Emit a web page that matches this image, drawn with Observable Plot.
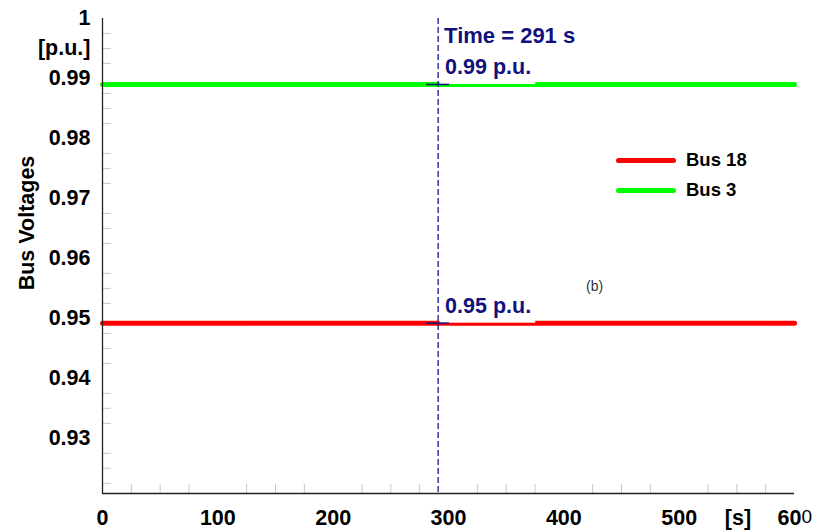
<!DOCTYPE html>
<html><head><meta charset="utf-8">
<script src="https://cdn.jsdelivr.net/npm/d3@7"></script>
<script src="https://cdn.jsdelivr.net/npm/@observablehq/plot@0.6"></script>
<style>
body{margin:0;background:#fff;font-family:"Liberation Sans",Arial,sans-serif;}
#wrap{position:relative;width:817px;height:531px;}
#wrap svg{font-family:"Liberation Sans",Arial,sans-serif;}
.legend{position:absolute;left:616px;top:145px;}
.row{display:flex;align-items:center;height:30px;}
.sw{width:60px;height:5px;border-radius:3px;margin-right:10px;}
.lab{font-weight:bold;font-size:18.5px;color:#000;}
.note{position:absolute;left:586px;top:278px;font-size:14px;color:#333;}
</style></head><body><div id="wrap"></div>
<script>
// ---- data ----
const times = [0, 600];
const bus18 = [0.9492, 0.9492];
const bus3 = [0.989, 0.989];
const seriesNames = ["Bus 18", "Bus 3"];
const seriesColors = ["#ff0000", "#00ff00"];

const cursorTime = 291;
const timeLabel = "Time = 291 s";
const readoutLabels = ["0.99 p.u.", "0.95 p.u."];
const readoutValues = [0.989, 0.9492];

const yTickValues = [1, 0.995, 0.99, 0.98, 0.97, 0.96, 0.95, 0.94, 0.93];
const yTickLabels = ["1", "[p.u.]", "0.99", "0.98", "0.97", "0.96", "0.95", "0.94", "0.93"];
const xTickValues = [0, 100, 200, 300, 400, 500, 551];
const xTickLabels = ["0", "100", "200", "300", "400", "500", "[s]"];
const xEndValue = 600;
const xEndLabels = ["60", "0"];
const yTitle = "Bus Voltages";
const noteText = "(b)";

const xDomain = [0, 600];
const yDomain = [0.9208, 1.0];
const minorX = d3.range(25, 600, 25).filter(v => v % 100 !== 0);
const minorY = d3.range(9225, 10000, 25).filter(v => v % 100 !== 0).map(v => v / 10000);

// ---- build ----
const lines = [];
times.forEach((t, i) => {
  lines.push({series: seriesNames[0], t, v: bus18[i]});
  lines.push({series: seriesNames[1], t, v: bus3[i]});
});
const readouts = readoutLabels.map((label, i) => ({time: cursorTime, value: readoutValues[i], label}));

const navy = "#12127e";
const boxSpan = 84.6, boxRise = 0.004, crossHalf = 10;
const fs = 21.5;

const chart = Plot.plot({
  width: 817,
  height: 531,
  marginLeft: 102,
  marginRight: 23,
  marginTop: 18,
  marginBottom: 38,
  x: {domain: xDomain},
  y: {domain: yDomain},
  color: {domain: seriesNames, range: seriesColors},
  marks: [
    Plot.axisY({ticks: minorY, tickSize: 9, dx: 9, tickFormat: () => "", color: "#c8c8c8", label: null}),
    Plot.axisX({ticks: minorX, tickSize: 9, dy: -9, tickFormat: () => "", color: "#c8c8c8", label: null}),
    Plot.axisY({ticks: yTickValues, tickFormat: d => yTickLabels[yTickValues.indexOf(d)], tickSize: 0, tickPadding: 12,
      fontSize: fs, fontWeight: "bold", fill: "#000", label: null}),
    Plot.axisX({ticks: xTickValues, tickFormat: d => xTickLabels[xTickValues.indexOf(d)], tickSize: 0, tickPadding: 16,
      fontSize: fs, fontWeight: "bold", fill: "#000", label: null}),
    Plot.text([{x: xEndValue}], {x: "x", frameAnchor: "bottom", text: () => xEndLabels[0], textAnchor: "end", lineAnchor: "top",
      dx: 7, dy: 16, fontSize: fs, fontWeight: "bold", fill: "#000"}),
    Plot.text([{x: xEndValue}], {x: "x", frameAnchor: "bottom", text: () => xEndLabels[1], textAnchor: "start", lineAnchor: "top",
      dx: 7, dy: 16, fontSize: 19, fontWeight: "normal", fill: "#000"}),
    Plot.text([yTitle], {text: d => d, frameAnchor: "left", textAnchor: "middle", lineAnchor: "middle", dx: -75, dy: -33, rotate: -90,
      fontSize: fs, fontWeight: "bold", fill: "#000"}),
    Plot.line(lines, {x: "t", y: "v", z: "series", stroke: "series", strokeWidth: 5}),
    Plot.rect(readouts, {x1: "time", x2: d => d.time + boxSpan, y1: "value", y2: d => d.value + boxRise, fill: "white", insetLeft: 2}),
    Plot.ruleX([cursorTime], {stroke: "#000090", strokeWidth: 1.2, strokeDasharray: "6,3"}),
    Plot.ruleY(readouts, {y: "value", x1: d => d.time - crossHalf, x2: d => d.time + crossHalf, stroke: navy, strokeWidth: 1.5}),
    Plot.text(readouts, {x: "time", y: "value", text: "label", textAnchor: "start", lineAnchor: "bottom", dx: 7, dy: -10,
      fontSize: fs, fontWeight: "bold", fill: navy}),
    Plot.text([{time: cursorTime, label: timeLabel}], {x: "time", text: "label", frameAnchor: "top", textAnchor: "start", lineAnchor: "bottom",
      dx: 6, dy: 24, fontSize: 22, fontWeight: "bold", fill: navy}),
    Plot.ruleX([xDomain[0]], {stroke: "#222", strokeWidth: 1.3}),
    Plot.ruleY([yDomain[0]], {stroke: "#222", strokeWidth: 1.3})
  ]
});

const wrap = document.getElementById("wrap");
wrap.appendChild(chart);

const legend = document.createElement("div");
legend.className = "legend";
seriesNames.forEach((name, i) => {
  const row = document.createElement("div");
  row.className = "row";
  const sw = document.createElement("div");
  sw.className = "sw";
  sw.style.background = seriesColors[i];
  const lab = document.createElement("span");
  lab.className = "lab";
  lab.textContent = name;
  row.appendChild(sw);
  row.appendChild(lab);
  legend.appendChild(row);
});
wrap.appendChild(legend);

const note = document.createElement("div");
note.className = "note";
note.textContent = noteText;
wrap.appendChild(note);
</script></body></html>
